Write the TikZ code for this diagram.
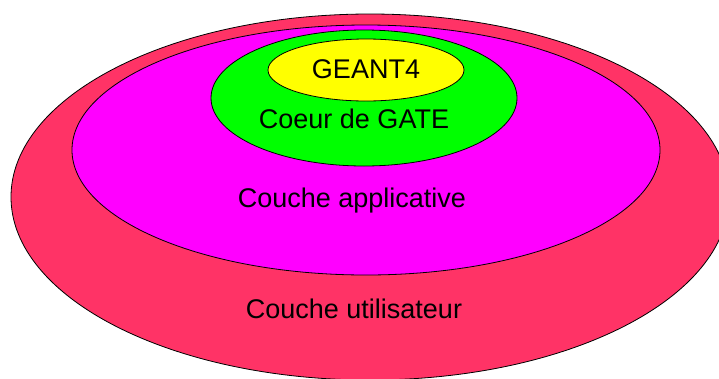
\documentclass[tikz,border=0pt]{standalone}
\usepackage{fontspec}
\setmainfont{Liberation Sans}
\definecolor{userred}{HTML}{FF3366}
\definecolor{appmag}{HTML}{FF00FF}
\definecolor{coregreen}{HTML}{00FF00}
\definecolor{geantyellow}{HTML}{FFFF00}
\begin{document}
\begin{tikzpicture}[x=1pt,y=-1pt,
  layer/.style={draw=black,line width=0.8pt},
  lbl/.style={anchor=base,inner sep=0pt,font=\fontsize{27}{32}\selectfont}]
\useasboundingbox (0,0) rectangle (719,378);
\clip (0,0) rectangle (719,378);
\fill[white] (0,0) rectangle (719,378);
\draw[layer,fill=userred] (370,197) ellipse [x radius=359, y radius=183];
\draw[layer,fill=appmag] (366,150) ellipse [x radius=294, y radius=125];
\draw[layer,fill=coregreen] (364,98) ellipse [x radius=153, y radius=68];
\draw[layer,fill=geantyellow] (366,70) ellipse [x radius=98, y radius=31];
\node[lbl] (geant) at (366,78) {GEANT4};
\node[lbl] (coeur) at (354,128) {Coeur de GATE};
\node[lbl] (appli) at (352,207) {Couche applicative};
\node[lbl] (user) at (354,318) {Couche utilisateur};
\end{tikzpicture}
\end{document}
